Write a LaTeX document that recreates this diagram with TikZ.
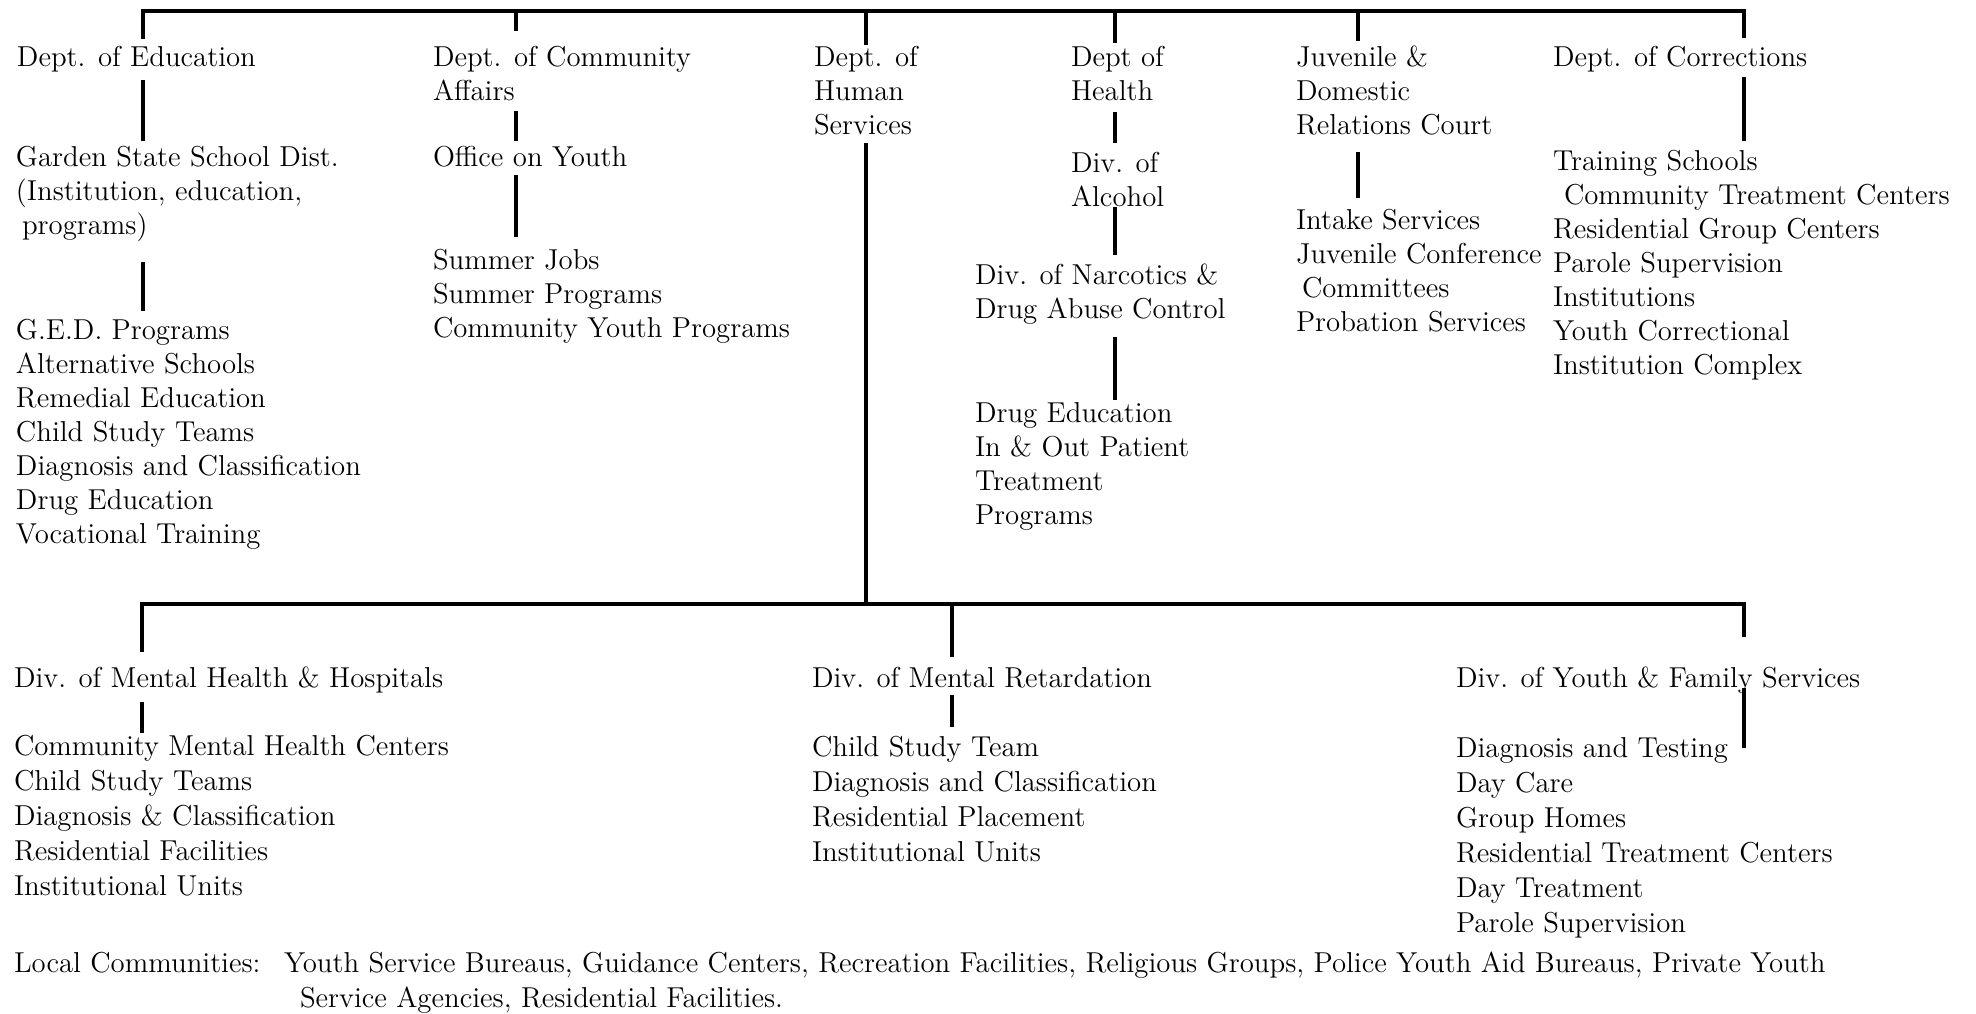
\documentclass[tikz,border=0pt]{standalone}
\usepackage{fontspec}
\begin{document}
\begin{tikzpicture}[x=0.5pt,y=-0.5pt,
  lk/.style={line width=1.6pt},
  tb/.style={anchor=north west, inner sep=0pt, outer sep=0pt, align=left, yshift=-1.2pt, font=\fontsize{14.4}{17}\selectfont},
  bb/.style={anchor=north west, inner sep=0pt, outer sep=0pt, align=left, yshift=-0.8pt, font=\fontsize{14.4}{17.5}\selectfont}]
\useasboundingbox[fill=white] (0,0) rectangle (1976,1013);

% ---------- top row texts (north = baseline - 24) ----------
\node[tb] (edu) at (17,40) {\strut Dept. of Education};
\node[tb] (gs) at (16,140) {\strut Garden State School Dist.\\(Institution, education,\\\hspace{3pt}programs)};
\node[tb] (ged) at (16,313) {\strut G.E.D. Programs\\Alternative Schools\\Remedial Education\\Child Study Teams\\Diagnosis and Classification\\Drug Education\\Vocational Training};

\node[tb] (dca) at (433,40) {\strut Dept. of Community\\Affairs};
\node[tb] (ooy) at (433,140) {\strut Office on Youth};
\node[tb] (sj) at (433,243) {\strut Summer Jobs\\Summer Programs\\Community Youth Programs};

\node[tb] (dhs) at (814,40) {\strut Dept. of\\Human\\Services};

\node[tb] (doh) at (1071,40) {\strut Dept of\\Health};
\node[tb] (doa) at (1071,146) {\strut Div. of\\Alcohol};
\node[tb] (dnc) at (975,258) {\strut Div. of Narcotics \&\\Drug Abuse Control};
\node[tb] (dre) at (975,396) {\strut Drug Education\\In \& Out Patient\\Treatment\\Programs};

\node[tb] (jdr) at (1296,40) {\strut Juvenile \&\\Domestic\\Relations Court};
\node[tb] (jis) at (1296,203) {\strut Intake Services\\Juvenile Conference\\\hspace{3pt}Committees\\Probation Services};

\node[tb] (doc) at (1553,40) {\strut Dept. of Corrections};
\node[tb] (trs) at (1553,144) {\strut Training Schools\\\hspace{5.5pt}Community Treatment Centers\\Residential Group Centers\\Parole Supervision\\Institutions\\Youth Correctional\\Institution Complex};

% ---------- bottom row texts ----------
\node[bb] (mhh) at (14,661) {\strut Div. of Mental Health \& Hospitals};
\node[bb] (cmh) at (14,729) {\strut Community Mental Health Centers\\Child Study Teams\\Diagnosis \& Classification\\Residential Facilities\\Institutional Units};

\node[bb] (dmr) at (812,661) {\strut Div. of Mental Retardation};
\node[bb] (cst) at (812,730) {\strut Child Study Team\\Diagnosis and Classification\\Residential Placement\\Institutional Units};

\node[bb] (yfs) at (1456,661) {\strut Div. of Youth \& Family Services};
\node[bb] (dat) at (1456,731) {\strut Diagnosis and Testing\\Day Care\\Group Homes\\Residential Treatment Centers\\Day Treatment\\Parole Supervision};

\node[bb] (lc) at (14,946) {\strut Local Communities:};
\node[bb] (lc2) at (284,946) {\strut Youth Service Bureaus, Guidance Centers, Recreation Facilities, Religious Groups, Police Youth Aid Bureaus, Private Youth};
\node[bb] (lc3) at (300,981) {\strut Service Agencies, Residential Facilities.};

% ---------- connectors ----------
% top bar
\coordinate (t0) at (143,39);
\coordinate (t1) at (143,11);
\coordinate (t2) at (1744,11);
\coordinate (t3) at (1744,38);
\draw[lk] (t0) -- (t1) -- (t2) -- (t3);
\coordinate (ca0) at (516,11);  \coordinate (ca1) at (516,31);
\coordinate (hs0) at (866,11);  \coordinate (hs1) at (866,45);
\coordinate (he0) at (1115,11); \coordinate (he1) at (1115,43);
\coordinate (ju0) at (1358,11); \coordinate (ju1) at (1358,41);
\draw[lk] (ca0) -- (ca1);
\draw[lk] (hs0) -- (hs1);
\draw[lk] (he0) -- (he1);
\draw[lk] (ju0) -- (ju1);

% Education column
\coordinate (e1) at (143,80);  \coordinate (e2) at (143,141);
\coordinate (e3) at (143,262); \coordinate (e4) at (143,311);
\draw[lk] (e1) -- (e2);
\draw[lk] (e3) -- (e4);

% Community affairs column
\coordinate (c1) at (516,111); \coordinate (c2) at (516,141);
\coordinate (c3) at (516,175); \coordinate (c4) at (516,237);
\draw[lk] (c1) -- (c2);
\draw[lk] (c3) -- (c4);

% Health column
\coordinate (h1) at (1115,112); \coordinate (h2) at (1115,143);
\coordinate (h3) at (1115,207); \coordinate (h4) at (1115,255);
\coordinate (h5) at (1115,337); \coordinate (h6) at (1115,400);
\draw[lk] (h1) -- (h2);
\draw[lk] (h3) -- (h4);
\draw[lk] (h5) -- (h6);

% Juvenile column
\coordinate (j1) at (1358,152); \coordinate (j2) at (1358,198);
\draw[lk] (j1) -- (j2);

% Corrections column
\coordinate (k1) at (1744,77); \coordinate (k2) at (1744,141);
\draw[lk] (k1) -- (k2);

% Human services trunk and bottom bar
\coordinate (hu1) at (866,143);
\coordinate (hu2) at (866,604);
\draw[lk] (hu1) -- (hu2);
\coordinate (b0) at (142,652);
\coordinate (b1) at (142,604);
\coordinate (b2) at (1744,604);
\coordinate (b3) at (1744,637);
\draw[lk] (b0) -- (b1) -- (b2) -- (b3);
\coordinate (m0) at (952,604); \coordinate (m1) at (952,657);
\draw[lk] (m0) -- (m1);

% bottom columns
\coordinate (p1) at (142,702); \coordinate (p2) at (142,733);
\draw[lk] (p1) -- (p2);
\coordinate (r1) at (952,695); \coordinate (r2) at (952,727);
\draw[lk] (r1) -- (r2);
\coordinate (y1) at (1744,688); \coordinate (y2) at (1744,748);
\draw[lk] (y1) -- (y2);
\end{tikzpicture}
\end{document}
